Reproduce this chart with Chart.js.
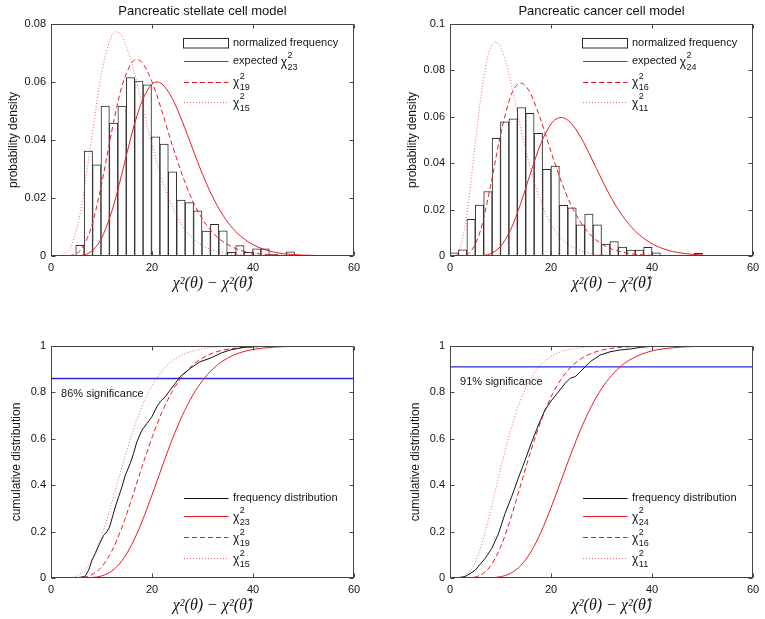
<!DOCTYPE html>
<html>
<head>
<meta charset="utf-8">
<script src="https://cdn.jsdelivr.net/npm/chart.js@4.4.1/dist/chart.umd.min.js"></script>
<style>
  body { margin: 0; background: #fff; }
  #wrap { position: relative; width: 765px; height: 619px; overflow: hidden; }
  canvas { position: absolute; }
</style>
</head>
<body>
<div id="wrap">
  <canvas id="pdfStellate" width="399" height="322" style="left:0;top:0"></canvas>
  <canvas id="pdfCancer" width="366" height="322" style="left:399px;top:0"></canvas>
  <canvas id="cdfStellate" width="399" height="297" style="left:0;top:322px"></canvas>
  <canvas id="cdfCancer" width="366" height="297" style="left:399px;top:322px"></canvas>
</div>
<script>
// ---- stellate cell model: histogram (bin centres / normalized frequency)
const tlBins = [5.73, 7.40, 9.07, 10.73, 12.40, 14.07, 15.73, 17.40, 19.07, 20.73, 22.40, 24.07, 25.73,
  27.40, 29.07, 30.73, 32.40, 34.07, 35.73, 37.40, 39.07, 40.73, 42.40, 44.07, 45.73, 47.40];
const tlFreq = [0.0037, 0.0362, 0.0314, 0.0517, 0.0458, 0.0517, 0.0615, 0.0603, 0.0590, 0.0411, 0.0386, 0.0290, 0.0193,
  0.0184, 0.0156, 0.0086, 0.0109, 0.0087, 0.0013, 0.0036, 0.0013, 0.0025, 0.0025, 0.0006, 0, 0.0014];

// stellate pdf curves
const tlX = [2, 4, 6, 8, 10, 12, 13, 14, 16, 17, 18, 20, 21, 22, 24, 26, 28, 30, 32, 34, 36, 38, 40, 42, 44, 46, 48, 50, 52, 54];
const tlChi15 = [0.0001, 0.0033, 0.0168, 0.0401, 0.0630, 0.0758, 0.0773, 0.0759, 0.0665, 0.0598, 0.0526, 0.0384, 0.0320, 0.0263,
  0.0170, 0.0105, 0.0063, 0.0036, 0.0020, 0.0011, 0.0006, 0.0003, 0.0002, 0.0001, 0, 0, 0, 0, 0, 0];
const tlChi19 = [0, 0.0002, 0.0024, 0.0100, 0.0247, 0.0427, 0.0511, 0.0583, 0.0667, 0.0677, 0.0668, 0.0601, 0.0552, 0.0497,
  0.0383, 0.0279, 0.0192, 0.0127, 0.0081, 0.0050, 0.0030, 0.0017, 0.0010, 0.0006, 0.0003, 0.0002, 0.0001, 0, 0, 0];
const tlChi23 = [0, 0, 0.0002, 0.0016, 0.0061, 0.0152, 0.0213, 0.0281, 0.0421, 0.0482, 0.0533, 0.0593, 0.0600, 0.0593,
  0.0544, 0.0464, 0.0372, 0.0282, 0.0204, 0.0142, 0.0095, 0.0062, 0.0039, 0.0024, 0.0014, 0.0008, 0.0005, 0.0003, 0.0002, 0.0001];

// ---- cancer cell model: histogram
const trBins = [0.83, 2.50, 4.17, 5.83, 7.50, 9.17, 10.83, 12.50, 14.17, 15.83, 17.50, 19.17, 20.83, 22.50, 24.17,
  25.83, 27.50, 29.17, 30.83, 32.50, 34.17, 35.83, 37.50, 39.17, 40.83, 42.50, 44.17, 45.83, 47.50, 49.17];
const trFreq = [0.0014, 0.0027, 0.0158, 0.0219, 0.0278, 0.0507, 0.0578, 0.0591, 0.0640, 0.0615, 0.0529, 0.0374, 0.0388, 0.0218, 0.0208,
  0.0134, 0.0181, 0.0134, 0.0051, 0.0062, 0.0038, 0.0026, 0.0026, 0.0037, 0.0014, 0, 0, 0, 0, 0.0011];

// cancer pdf curves
const trX11 = [0, 1, 2, 3, 4, 5, 6, 7, 8, 9, 10, 11, 12, 14, 16, 18, 20, 22, 24, 26, 28, 30, 32, 34, 36, 38, 40, 42, 44, 46, 48, 50];
const trChi11 = [0, 0.0003, 0.0035, 0.0132, 0.0292, 0.0484, 0.0667, 0.0810, 0.0896, 0.0923, 0.0899, 0.0838, 0.0752, 0.0553, 0.0371,
  0.0232, 0.0137, 0.0077, 0.0042, 0.0022, 0.0011, 0.0006, 0.0003, 0.0001, 0.0001, 0, 0, 0, 0, 0, 0, 0];
const trX16 = [0, 2, 4, 6, 8, 10, 12, 13, 14, 15, 16, 18, 20, 22, 24, 26, 28, 30, 32, 34, 36, 38, 40, 42, 44, 46, 48, 50];
const trChi16 = [0, 0, 0.0017, 0.0108, 0.0298, 0.0522, 0.0688, 0.0731, 0.0745, 0.0732, 0.0698, 0.0585, 0.0450, 0.0323,
  0.0218, 0.0141, 0.0087, 0.0052, 0.0030, 0.0017, 0.0009, 0.0005, 0.0003, 0.0001, 0.0001, 0, 0, 0];
const trX24 = [0, 2, 4, 6, 8, 10, 12, 14, 16, 18, 20, 21, 22, 23, 24, 26, 28, 30, 32, 34, 36, 38, 40, 42, 44, 46, 48, 50];
const trChi24 = [0, 0, 0, 0.0001, 0.0010, 0.0041, 0.0113, 0.0226, 0.0361, 0.0485, 0.0569, 0.0590, 0.0597, 0.0590,
  0.0572, 0.0508, 0.0422, 0.0332, 0.0248, 0.0178, 0.0123, 0.0082, 0.0053, 0.0033, 0.0020, 0.0012, 0.0007, 0.0004];

// ---- stellate cumulative
const blX = [0, 2, 4, 6, 8, 10, 12, 14, 16, 18, 20, 22, 24, 26, 28, 30, 32, 34, 36, 38, 40, 42, 44, 46, 48, 50];
const blChi15 = [0, 0.0001, 0.0025, 0.0206, 0.0762, 0.180, 0.320, 0.474, 0.618, 0.738, 0.828, 0.893, 0.935,
  0.962, 0.978, 0.988, 0.9935, 0.9965, 0.998, 0.999, 0.9995, 0.9998, 0.9999, 1, 1, 1];
const blChi19 = [0, 0, 0.0001, 0.0022, 0.0136, 0.0472, 0.114, 0.216, 0.342, 0.478, 0.605, 0.716, 0.804,
  0.870, 0.917, 0.948, 0.969, 0.982, 0.989, 0.994, 0.9967, 0.998, 0.999, 0.9995, 0.9997, 0.9999];
const blChi23 = [0, 0, 0, 0.0002, 0.0018, 0.0089, 0.0297, 0.0731, 0.1445, 0.242, 0.358, 0.480, 0.597,
  0.700, 0.785, 0.851, 0.900, 0.935, 0.959, 0.975, 0.985, 0.991, 0.995, 0.997, 0.998, 0.999];
const blFreqX = [4.9, 6.6, 6.8, 7.45, 8.11, 8.77, 9.63, 10.42, 11.08, 11.6, 12.73, 13.39, 14.05, 14.71, 15.69, 16.35, 17.0, 18.0,
  19.0, 19.98, 20.97, 21.63, 22.6, 23.6, 24.6, 25.6, 27.6, 29.5, 31.5, 33.5, 35.5, 38.1, 41.4, 44.0, 48.2];
const blFreqY = [0, 0.006, 0.01, 0.033, 0.076, 0.105, 0.148, 0.184, 0.199, 0.22, 0.306, 0.35, 0.393, 0.443, 0.494, 0.537, 0.587, 0.637,
  0.666, 0.695, 0.738, 0.76, 0.781, 0.81, 0.839, 0.868, 0.904, 0.932, 0.947, 0.968, 0.983, 0.994, 0.998, 0.999, 1];
const blSignificance = 0.86;

// ---- cancer cumulative
const brX11 = [0, 1, 2, 3, 4, 5, 6, 7, 8, 9, 10, 12, 14, 16, 18, 20, 22, 24, 26, 28, 30, 32, 34, 36, 38, 40, 42, 44, 46, 48, 50, 52];
const brChi11 = [0, 0.0001, 0.0018, 0.0099, 0.0306, 0.069, 0.126, 0.200, 0.286, 0.377, 0.469, 0.637, 0.768, 0.860, 0.919, 0.955,
  0.976, 0.987, 0.993, 0.997, 0.998, 0.999, 0.9996, 0.9998, 0.9999, 1, 1, 1, 1, 1, 1, 1];
const brX = [0, 2, 4, 6, 8, 10, 12, 14, 16, 18, 20, 22, 24, 26, 28, 30, 32, 34, 36, 38, 40, 42, 44, 46, 48, 50, 52];
const brChi16 = [0, 0, 0.0013, 0.0123, 0.0513, 0.133, 0.255, 0.401, 0.547, 0.676, 0.780, 0.857, 0.911, 0.946,
  0.968, 0.982, 0.990, 0.9945, 0.997, 0.9985, 0.9992, 0.9996, 0.9998, 0.9999, 1, 1, 1];
const brChi24 = [0, 0, 0, 0.0001, 0.001, 0.0056, 0.0203, 0.0534, 0.112, 0.197, 0.303, 0.420, 0.538, 0.647,
  0.740, 0.816, 0.873, 0.916, 0.945, 0.965, 0.979, 0.987, 0.992, 0.9955, 0.9974, 0.9985, 0.9992];
const brFreqX = [0.1, 1.7, 3.0, 4.96, 6.94, 8.26, 9.58, 10.9, 12.2, 13.5, 14.87, 16.2, 17.5, 18.8, 20.15, 21.5, 22.8, 23.8,
  24.8, 25.8, 27.75, 29.7, 31.7, 33.7, 35.7, 37.7, 39.6, 41.7, 50.0];
const brFreqY = [0, 0.002, 0.006, 0.033, 0.084, 0.127, 0.19, 0.278, 0.35, 0.429, 0.508, 0.587, 0.659, 0.724, 0.767, 0.803, 0.839, 0.861,
  0.868, 0.889, 0.932, 0.961, 0.975, 0.983, 0.987, 0.994, 0.998, 0.999, 1];
const brSignificance = 0.91;

const SANS = '"Liberation Sans", Arial, Helvetica, sans-serif';
const SERIF = '"Liberation Serif", "Times New Roman", serif';
const INK = '#141414';
const RED = 'rgb(232,28,36)';
const PINK = 'rgba(236,50,62,0.75)';
const BLUE = 'rgb(40,40,225)';

Chart.defaults.font.family = SANS;
Chart.defaults.font.size = 11;
Chart.defaults.color = INK;

const lineStyles = {
  black: { color: INK, dash: [] },
  solid: { color: RED, dash: [] },
  dash:  { color: RED, dash: [5, 3] },
  dot:   { color: PINK, dash: [1, 2] },
};

function pts(xs, ys) {
  return xs.map((x, i) => ({ x, y: ys[i] }));
}

function curve(xs, ys, kind, smooth = true) {
  const s = lineStyles[kind];
  return {
    type: 'line', data: pts(xs, ys), borderColor: s.color, borderDash: s.dash, borderWidth: 1,
    pointRadius: 0, fill: false, tension: 0, order: 1,
    cubicInterpolationMode: smooth ? 'monotone' : 'default',
  };
}

function histogram(centres, heights) {
  return {
    type: 'bar', data: pts(centres, heights), backgroundColor: '#fff', borderColor: '#2a2a2a',
    borderWidth: 1, borderSkipped: false, barPercentage: 1, categoryPercentage: 1, order: 9,
  };
}

function sigLine(level) {
  return { type: 'line', data: [{ x: 0, y: level }, { x: 60, y: level }], borderColor: BLUE, borderWidth: 1.3, pointRadius: 0, order: 3 };
}

// box, inward ticks, title, x label, legend and note (matlab look)
function framePlugin(cfg) {
  return {
    id: 'frame',
    afterDatasetsDraw(chart) {
      const { ctx, chartArea: a, scales: { x, y } } = chart;
      const L = Math.round(a.left) + 0.5, R = Math.round(a.right) - 0.5;
      const T = Math.round(a.top) + 0.5, B = Math.round(a.bottom) - 0.5;
      ctx.save();
      ctx.strokeStyle = '#444';
      ctx.lineWidth = 1;
      ctx.setLineDash([]);
      ctx.strokeRect(L, T, R - L, B - T);
      ctx.beginPath();
      x.ticks.forEach(t => {
        const px = Math.round(x.getPixelForValue(t.value)) + 0.5;
        ctx.moveTo(px, B); ctx.lineTo(px, B - 4);
        ctx.moveTo(px, T); ctx.lineTo(px, T + 4);
      });
      y.ticks.forEach(t => {
        const py = Math.round(y.getPixelForValue(t.value)) + 0.5;
        ctx.moveTo(L, py); ctx.lineTo(L + 4, py);
        ctx.moveTo(R, py); ctx.lineTo(R - 4, py);
      });
      ctx.stroke();

      ctx.fillStyle = INK;
      ctx.textBaseline = 'middle';
      ctx.textAlign = 'center';
      if (cfg.title) {
        ctx.font = '13px ' + SANS;
        ctx.fillText(cfg.title, (a.left + a.right) / 2, a.top - 13);
      }
      ctx.font = 'italic 16px ' + SERIF;
      ctx.fillText('χ²(θ) − χ²(θ̂)', (a.left + a.right) / 2 + 10, a.bottom + 28);

      // legend
      ctx.textAlign = 'left';
      cfg.rows.forEach(row => {
        const yy = a.top + row.ry;
        const x0 = a.left + 133, x1 = a.left + 177.5;
        if (row.mark === 'box') {
          ctx.strokeStyle = '#2a2a2a';
          ctx.strokeRect(x0 - 0.5, Math.round(yy - 5) + 0.5, x1 - x0 + 0.5, 9.5);
        } else {
          const s = lineStyles[row.mark];
          ctx.beginPath();
          ctx.strokeStyle = s.color;
          ctx.setLineDash(s.dash);
          ctx.moveTo(x0, Math.round(yy) + 0.5);
          ctx.lineTo(x1, Math.round(yy) + 0.5);
          ctx.stroke();
          ctx.setLineDash([]);
        }
        let tx = a.left + 182;
        ctx.fillStyle = INK;
        ctx.font = '11px ' + SANS;
        if (row.text) {
          ctx.fillText(row.text, tx, yy);
          return;
        }
        if (row.pre) {
          ctx.fillText(row.pre, tx, yy);
          tx += ctx.measureText(row.pre).width;
        }
        ctx.font = '12px ' + SANS;
        ctx.fillText('χ', tx, yy + 1.5);
        tx += ctx.measureText('χ').width + 0.5;
        ctx.font = '9px ' + SANS;
        ctx.fillText('2', tx, yy - 5);
        ctx.fillText(row.sub, tx, yy + 6.5);
      });

      if (cfg.note) {
        ctx.font = '11px ' + SANS;
        ctx.fillText(cfg.note.text, x.getPixelForValue(cfg.note.x), y.getPixelForValue(cfg.note.y));
      }
      ctx.restore();
    }
  };
}

function makeChart(id, datasets, opt) {
  return new Chart(document.getElementById(id), {
    type: 'bar',
    data: { datasets },
    options: {
      responsive: false,
      animation: false,
      devicePixelRatio: 1,
      layout: { padding: { left: 0, right: opt.padRight, top: 24, bottom: opt.padBottom } },
      plugins: { legend: { display: false }, tooltip: { enabled: false }, title: { display: false } },
      scales: {
        x: {
          type: 'linear', min: 0, max: 60, offset: false,
          grid: { display: false, drawTicks: false }, border: { display: false },
          ticks: { stepSize: 20, padding: 5, color: INK },
          afterFit: s => { s.height = 38; },
        },
        y: {
          type: 'linear', min: 0, max: opt.yMax,
          grid: { display: false, drawTicks: false }, border: { display: false },
          ticks: { stepSize: opt.yStep, padding: 5, color: INK, callback: v => String(+v.toFixed(3)) },
          title: { display: true, text: opt.yTitle, color: INK, font: { size: 12 }, padding: { top: opt.yTitlePad, bottom: 0 } },
          afterFit: s => { s.width = 51; },
        },
      },
    },
    plugins: [framePlugin(opt.frame)],
  });
}

makeChart('pdfStellate', [
  curve(tlX, tlChi23, 'solid'),
  curve(tlX, tlChi19, 'dash'),
  curve(tlX, tlChi15, 'dot'),
  histogram(tlBins, tlFreq),
], {
  padRight: 45, padBottom: 28, yMax: 0.08, yStep: 0.02, yTitle: 'probability density', yTitlePad: 6.5,
  frame: {
    title: 'Pancreatic stellate cell model',
    rows: [
      { ry: 18.5, mark: 'box', text: 'normalized frequency' },
      { ry: 37, mark: 'solid', pre: 'expected ', sub: '23' },
      { ry: 57.5, mark: 'dash', sub: '19' },
      { ry: 78, mark: 'dot', sub: '15' },
    ],
  },
});

makeChart('pdfCancer', [
  curve(trX24, trChi24, 'solid'),
  curve(trX16, trChi16, 'dash'),
  curve(trX11, trChi11, 'dot'),
  histogram(trBins, trFreq),
], {
  padRight: 12, padBottom: 28, yMax: 0.1, yStep: 0.02, yTitle: 'probability density', yTitlePad: 6.5,
  frame: {
    title: 'Pancreatic cancer cell model',
    rows: [
      { ry: 18.5, mark: 'box', text: 'normalized frequency' },
      { ry: 37, mark: 'solid', pre: 'expected ', sub: '24' },
      { ry: 57.5, mark: 'dash', sub: '16' },
      { ry: 78, mark: 'dot', sub: '11' },
    ],
  },
});

makeChart('cdfStellate', [
  curve(blFreqX, blFreqY, 'black', false),
  curve(blX, blChi23, 'solid'),
  curve(blX, blChi19, 'dash'),
  curve(blX, blChi15, 'dot'),
  sigLine(blSignificance),
], {
  padRight: 45, padBottom: 3, yMax: 1, yStep: 0.2, yTitle: 'cumulative distribution', yTitlePad: 9.5,
  frame: {
    rows: [
      { ry: 152.3, mark: 'black', text: 'frequency distribution' },
      { ry: 170, mark: 'solid', sub: '23' },
      { ry: 191.3, mark: 'dash', sub: '19' },
      { ry: 212.3, mark: 'dot', sub: '15' },
    ],
    note: { text: '86% significance', x: 2, y: blSignificance - 0.067 },
  },
});

makeChart('cdfCancer', [
  curve(brFreqX, brFreqY, 'black', false),
  curve(brX, brChi24, 'solid'),
  curve(brX, brChi16, 'dash'),
  curve(brX11, brChi11, 'dot'),
  sigLine(brSignificance),
], {
  padRight: 12, padBottom: 3, yMax: 1, yStep: 0.2, yTitle: 'cumulative distribution', yTitlePad: 9.5,
  frame: {
    rows: [
      { ry: 152.3, mark: 'black', text: 'frequency distribution' },
      { ry: 170, mark: 'solid', sub: '24' },
      { ry: 191.3, mark: 'dash', sub: '16' },
      { ry: 212.3, mark: 'dot', sub: '11' },
    ],
    note: { text: '91% significance', x: 2, y: brSignificance - 0.067 },
  },
});
</script>
</body>
</html>
